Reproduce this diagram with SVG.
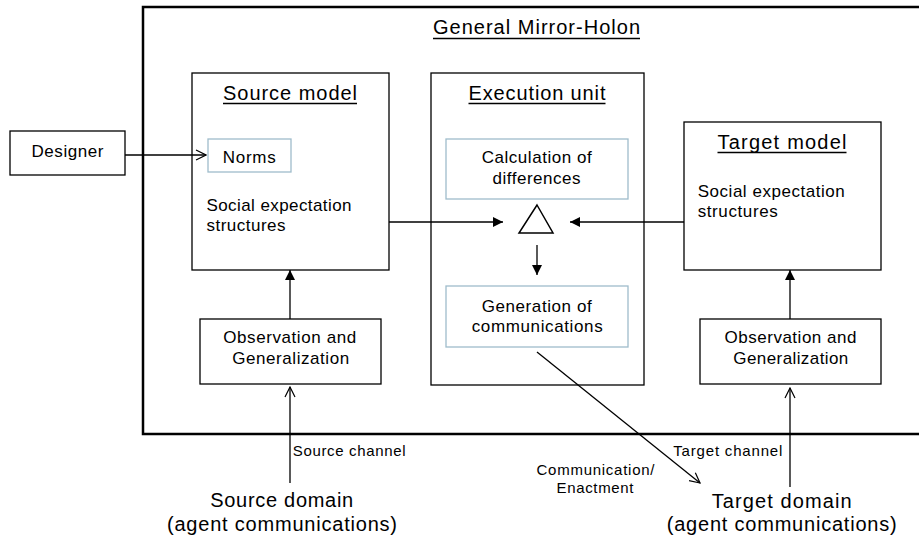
<svg xmlns="http://www.w3.org/2000/svg" width="919" height="543" viewBox="0 0 919 543">
<defs>
<marker id="fill" viewBox="0 0 10 10" refX="10" refY="5" markerWidth="10" markerHeight="10" markerUnits="userSpaceOnUse" orient="auto"><path d="M0,0 L10,5 L0,10 z" fill="#000"/></marker>
<marker id="open" viewBox="0 0 12 12" refX="11" refY="6" markerWidth="12" markerHeight="12" markerUnits="userSpaceOnUse" orient="auto"><path d="M1,1 L11,6 L1,11" fill="none" stroke="#000" stroke-width="1.2"/></marker>
</defs>
<style>
text{font-family:"Liberation Sans",Arial,sans-serif;fill:#000}
.box{fill:#fff;stroke:#000;stroke-width:1.3}
.inner{fill:#fff;stroke:#9fbccb;stroke-width:1.3}
.ttl{font-size:20px}
.ul{stroke:#000;stroke-width:1.3}
.t17{font-size:17px}
.t15{font-size:15px}
.t20{font-size:20px}
.c{text-anchor:middle}
.ln{stroke:#000;stroke-width:1.3;fill:none}
</style>
<rect width="919" height="543" fill="#fff"/>
<g id="holon">
<path d="M935,7 H143 V434 H935" fill="none" stroke="#000" stroke-width="2.5"/>
<text x="536.5" y="34" class="c ttl" textLength="207" lengthAdjust="spacing">General Mirror-Holon</text>
<line class="ul" x1="433" y1="38.5" x2="640" y2="38.5"/>
</g>
<g id="designer">
<rect class="box" x="10" y="131" width="115" height="44"/>
<text x="67.5" y="157" class="c t17" textLength="72" lengthAdjust="spacing">Designer</text>
</g>
<g id="source-model">
<rect class="box" x="192" y="73" width="197" height="197"/>
<text x="290" y="100" class="c ttl" textLength="134" lengthAdjust="spacing">Source model</text>
<line class="ul" x1="223" y1="103.5" x2="357" y2="103.5"/>
<text x="206.5" y="210.5" class="t17" textLength="145" lengthAdjust="spacing">Social expectation</text>
<text x="206.5" y="230.5" class="t17" textLength="79" lengthAdjust="spacing">structures</text>
</g>
<g id="norms">
<rect class="inner" x="208" y="139" width="83" height="33"/>
<text x="222.7" y="162.7" class="t17" textLength="53" lengthAdjust="spacing">Norms</text>
</g>
<g id="execution-unit">
<rect class="box" x="431" y="73" width="213" height="312"/>
<text x="537" y="100" class="c ttl" textLength="137" lengthAdjust="spacing">Execution unit</text>
<line class="ul" x1="468.5" y1="103.5" x2="605.5" y2="103.5"/>
</g>
<g id="calculation">
<rect class="inner" x="446" y="139" width="182" height="60"/>
<text x="536.7" y="163" class="c t17" textLength="110" lengthAdjust="spacing">Calculation of</text>
<text x="536.5" y="183.5" class="c t17" textLength="88" lengthAdjust="spacing">differences</text>
</g>
<g id="delta">
<path d="M537,205 L553,233 L519,233 Z" fill="#fff" stroke="#000" stroke-width="1.5"/>
</g>
<g id="generation">
<rect class="inner" x="446" y="286" width="182" height="61"/>
<text x="536.7" y="311.7" class="c t17" textLength="110" lengthAdjust="spacing">Generation of</text>
<text x="537.2" y="331.7" class="c t17" textLength="131" lengthAdjust="spacing">communications</text>
</g>
<g id="target-model">
<rect class="box" x="684" y="122" width="197" height="148"/>
<text x="782" y="149" class="c ttl" textLength="129" lengthAdjust="spacing">Target model</text>
<line class="ul" x1="717.5" y1="152.5" x2="846.5" y2="152.5"/>
<text x="697.7" y="197" class="t17" textLength="147" lengthAdjust="spacing">Social expectation</text>
<text x="697.7" y="217" class="t17" textLength="80" lengthAdjust="spacing">structures</text>
</g>
<g id="obs-source">
<rect class="box" x="200" y="319" width="181" height="65"/>
<text x="289.7" y="343.3" class="c t17" textLength="133" lengthAdjust="spacing">Observation and</text>
<text x="290.7" y="364" class="c t17" textLength="117" lengthAdjust="spacing">Generalization</text>
</g>
<g id="obs-target">
<rect class="box" x="700" y="319" width="181" height="65"/>
<text x="790.5" y="343.3" class="c t17" textLength="132" lengthAdjust="spacing">Observation and</text>
<text x="790.8" y="364" class="c t17" textLength="115" lengthAdjust="spacing">Generalization</text>
</g>
<g id="source-domain">
<text x="281.7" y="507" class="c t20" textLength="143" lengthAdjust="spacing">Source domain</text>
<text x="282" y="531" class="c t20" textLength="230" lengthAdjust="spacing">(agent communications)</text>
</g>
<g id="target-domain">
<text x="781.7" y="508" class="c t20" textLength="140" lengthAdjust="spacing">Target domain</text>
<text x="781.7" y="531" class="c t20" textLength="230" lengthAdjust="spacing">(agent communications)</text>
</g>
<g id="connectors">
<line class="ln" x1="125" y1="155" x2="206" y2="155" marker-end="url(#open)"/>
<line class="ln" x1="389" y1="222" x2="503" y2="222" marker-end="url(#fill)"/>
<line class="ln" x1="684" y1="222" x2="570" y2="222" marker-end="url(#fill)"/>
<line class="ln" x1="537" y1="245" x2="537" y2="275" marker-end="url(#fill)"/>
<line class="ln" x1="290" y1="319" x2="290" y2="270" marker-end="url(#fill)"/>
<line class="ln" x1="790" y1="319" x2="790" y2="270" marker-end="url(#fill)"/>
<line class="ln" x1="290" y1="483" x2="290" y2="387" marker-end="url(#open)"/>
<line class="ln" x1="790" y1="487" x2="790" y2="388" marker-end="url(#open)"/>
<line class="ln" x1="537" y1="352" x2="700" y2="483" marker-end="url(#open)"/>
<text x="292.7" y="456" class="t15" textLength="113" lengthAdjust="spacing">Source channel</text>
<text x="673.3" y="456" class="t15" textLength="109" lengthAdjust="spacing">Target channel</text>
<text x="595.5" y="475" class="c t15" textLength="118" lengthAdjust="spacing">Communication/</text>
<text x="595" y="493.3" class="c t15" textLength="77" lengthAdjust="spacing">Enactment</text>
</g>
</svg>
